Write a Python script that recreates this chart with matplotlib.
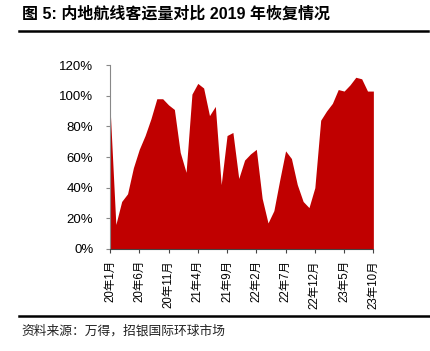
import matplotlib
matplotlib.use('Agg')
import matplotlib.pyplot as plt
from matplotlib.ticker import FuncFormatter

plt.rcParams['font.family'] = ['Liberation Sans', 'Noto Sans CJK SC', 'DejaVu Sans']

# 内地航线客运量 / 2019 同期 (%)
months = ['20年1月', '20年2月', '20年3月', '20年4月', '20年5月', '20年6月', '20年7月', '20年8月',
          '20年9月', '20年10月', '20年11月', '20年12月', '21年1月', '21年2月', '21年3月', '21年4月',
          '21年5月', '21年6月', '21年7月', '21年8月', '21年9月', '21年10月', '21年11月', '21年12月',
          '22年1月', '22年2月', '22年3月', '22年4月', '22年5月', '22年6月', '22年7月', '22年8月',
          '22年9月', '22年10月', '22年11月', '22年12月', '23年1月', '23年2月', '23年3月', '23年4月',
          '23年5月', '23年6月', '23年7月', '23年8月', '23年9月', '23年10月']
recovery = [93, 16, 31, 36, 53, 65, 74, 85, 98, 98, 94, 91, 63, 50, 101, 108,
            105, 87, 93, 42, 74, 76, 46, 58, 62, 65, 33, 17, 25, 45, 64, 59,
            42, 31, 27, 40, 84, 90, 95, 104, 103, 107, 112, 111, 103, 103]

title = '图 5: 内地航线客运量对比 2019 年恢复情况'
source = '资料来源：万得，招银国际环球市场'

fig = plt.figure(figsize=(4.30, 3.51), dpi=100)
ax = fig.add_axes([0.2558, 0.2906, 0.6125, 0.5242])

x = list(range(len(recovery)))
ax.fill_between(x, recovery, 0, color='#C00000', linewidth=0)

ax.set_xlim(0, len(recovery) - 1)
ax.set_ylim(0, 120)
ax.set_yticks(range(0, 121, 20))
ax.yaxis.set_major_formatter(FuncFormatter(lambda v, p: '%d%%' % v))
ax.set_xticks(x[::5])
ax.set_xticklabels(months[::5], rotation=90)

for side in ['top', 'right']:
    ax.spines[side].set_visible(False)
ax.spines['left'].set_color('#888888')
ax.spines['bottom'].set_color('#444444')
ax.tick_params(axis='y', labelsize=9.5, length=3, color='#888888', pad=9)
ax.tick_params(axis='x', labelsize=8.3, length=3, color='#444444', pad=5)

# title and source with rules
fig.text(0.05, 0.96, title, fontsize=11.5, fontweight='bold', va='center', ha='left')
fig.add_artist(plt.Line2D([0.044, 0.995], [0.911, 0.911], color='black', linewidth=1.8))
fig.add_artist(plt.Line2D([0.044, 1.0], [0.099, 0.099], color='black', linewidth=1.8))
fig.text(0.05, 0.057, source, fontsize=9.2, va='center', ha='left', color='#222222')

plt.savefig('out.png', dpi=100)
